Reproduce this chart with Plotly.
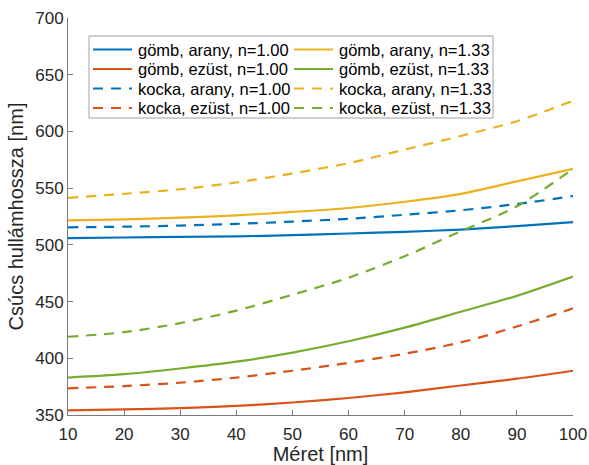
import plotly.graph_objects as go

# Particle size (nm)
meret = [10, 20, 30, 40, 50, 60, 70, 80, 90, 100]

# Peak wavelength (nm) for each shape / metal / refractive index
gomb_arany_100 = [506, 506.5, 507, 507.5, 508.5, 510, 511.5, 513.5, 516.5, 520]
gomb_ezust_100 = [354, 355, 356, 358, 361, 365, 370, 376, 382, 389]
kocka_arany_100 = [515.5, 516, 517, 518.5, 520.5, 523, 526.5, 530.5, 536, 543]
kocka_ezust_100 = [373.5, 375.5, 378.5, 383, 389, 396, 404, 414, 428, 444]
gomb_arany_133 = [521.5, 522.5, 524, 526, 529, 532.5, 538, 545, 556, 567]
gomb_ezust_133 = [383, 386, 391, 397, 405, 415, 427, 441, 455, 472]
kocka_arany_133 = [541.5, 545, 549, 555, 563, 572, 584, 596, 609, 627]
kocka_ezust_133 = [419, 423, 431, 442, 456, 471, 490, 512, 534, 567]

x_ticks = [10, 20, 30, 40, 50, 60, 70, 80, 90, 100]
y_ticks = [350, 400, 450, 500, 550, 600, 650, 700]

KEK = "#0072BD"
NARANCS = "#D95319"
SARGA = "#EDB120"
ZOLD = "#77AC30"
DASH = "10px,8px"

# (label, values, colour, dash, legend column, legend row)
sorozatok = [
    ("gömb, arany, n=1.00", gomb_arany_100, KEK, "solid", 0, 0),
    ("gömb, ezüst, n=1.00", gomb_ezust_100, NARANCS, "solid", 0, 1),
    ("kocka, arany, n=1.00", kocka_arany_100, KEK, DASH, 0, 2),
    ("kocka, ezüst, n=1.00", kocka_ezust_100, NARANCS, DASH, 0, 3),
    ("gömb, arany, n=1.33", gomb_arany_133, SARGA, "solid", 1, 0),
    ("gömb, ezüst, n=1.33", gomb_ezust_133, ZOLD, "solid", 1, 1),
    ("kocka, arany, n=1.33", kocka_arany_133, SARGA, DASH, 1, 2),
    ("kocka, ezüst, n=1.33", kocka_ezust_133, ZOLD, DASH, 1, 3),
]

W, H = 589, 465
ML, MR, MT, MB = 68, 16, 18, 50
PW, PH = W - ML - MR, H - MT - MB


def px_x(px):
    # figure pixel -> paper fraction (horizontal)
    return (px - ML) / PW


def px_y(py):
    # figure pixel -> paper fraction (vertical)
    return (H - MB - py) / PH


fig = go.Figure()
for nev, ertekek, szin, vonal, _, _ in sorozatok:
    fig.add_trace(go.Scatter(
        x=meret, y=ertekek, name=nev, mode="lines", showlegend=False,
        line=dict(color=szin, width=2.2, dash=vonal, shape="spline", smoothing=0.8),
    ))

TENGELY = "#7a7a7a"
SZOVEG = "#262626"
BETU = "Liberation Sans, Arial, sans-serif"

# Two-column legend box with line samples and labels
DOBOZ = (89, 36, 493, 118)
SOR_Y = [49.5, 69.0, 88.5, 108.0]
OSZLOP_X = [93, 294]
MINTA_HOSSZ = 39
SZOVEG_RES = 4

shapes = [dict(
    type="rect", xref="paper", yref="paper", layer="above",
    x0=px_x(DOBOZ[0]), x1=px_x(DOBOZ[2]), y0=px_y(DOBOZ[3]), y1=px_y(DOBOZ[1]),
    line=dict(color="#a0a0a0", width=1), fillcolor="white",
)]
annotations = []
for nev, _, szin, vonal, oszlop, sor in sorozatok:
    x0 = OSZLOP_X[oszlop]
    y = SOR_Y[sor]
    shapes.append(dict(
        type="line", xref="paper", yref="paper", layer="above",
        x0=px_x(x0), x1=px_x(x0 + MINTA_HOSSZ), y0=px_y(y), y1=px_y(y),
        line=dict(color=szin, width=2.2, dash=vonal),
    ))
    annotations.append(dict(
        xref="paper", yref="paper", x=px_x(x0 + MINTA_HOSSZ + SZOVEG_RES), y=px_y(y),
        xanchor="left", yanchor="middle", text=nev, showarrow=False,
        font=dict(family=BETU, size=16.5, color="#000000"),
    ))

fig.update_layout(
    width=W, height=H,
    margin=dict(l=ML, r=MR, t=MT, b=MB),
    paper_bgcolor="white", plot_bgcolor="white",
    font=dict(family=BETU, size=17, color=SZOVEG),
    showlegend=False,
    shapes=shapes,
    annotations=annotations,
    xaxis=dict(
        range=[10, 100], tickvals=x_ticks, automargin=False,
        showline=True, linecolor=TENGELY, linewidth=1,
        ticks="inside", ticklen=5, tickcolor=TENGELY,
        showgrid=False, zeroline=False, ticklabelstandoff=4,
        tickfont=dict(size=17, color=SZOVEG),
        title=dict(text="Méret [nm]", font=dict(size=20, color=SZOVEG), standoff=2),
    ),
    yaxis=dict(
        range=[350, 700], tickvals=y_ticks, automargin=False,
        showline=True, linecolor=TENGELY, linewidth=1,
        ticks="inside", ticklen=5, tickcolor=TENGELY,
        showgrid=False, zeroline=False,
        tickfont=dict(size=17, color=SZOVEG),
        title=dict(text="Csúcs hullámhossza [nm]", font=dict(size=20, color=SZOVEG), standoff=6),
    ),
)

fig.write_html("out.html")
